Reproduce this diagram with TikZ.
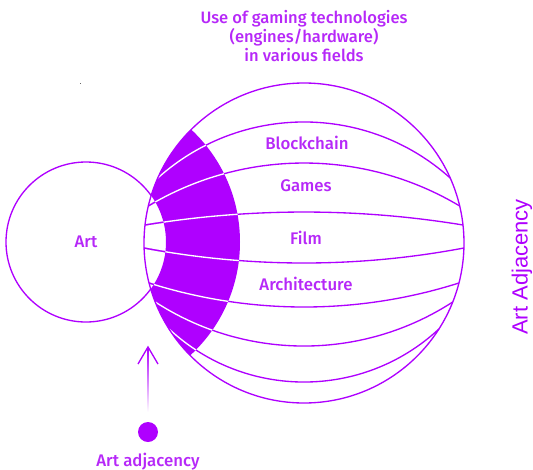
\documentclass[tikz,border=0pt]{standalone}
\usepackage{fontspec}
\setmainfont{Fira Sans}[UprightFont=* Medium]
\newfontfamily\arialfont{Liberation Sans}
\definecolor{pcol}{RGB}{175,0,255}
\definecolor{tcol}{RGB}{182,40,248}
\newcommand\drawlat[1]{%
  \draw[#1] (157.8,178) .. controls (241.0,103.3) and (367.0,103.3) .. (450.2,178);
  \draw[#1] (148.3,206) .. controls (244.1,148.7) and (363.9,148.7) .. (459.7,206);
  \draw[#1] (145.0,225) .. controls (250.3,207.7) and (357.7,207.7) .. (463.0,225);
  \draw[#1] (144.1,248) .. controls (249.8,268.0) and (358.2,268.0) .. (463.9,248);
  \draw[#1] (149.1,283) .. controls (249.9,315.0) and (358.1,315.0) .. (458.9,283);
  \draw[#1] (155.3,302) .. controls (245.8,360.7) and (362.2,360.7) .. (452.7,302);
  \draw[#1] (169.1,329) .. controls (245.2,399.7) and (362.8,399.7) .. (438.9,329);
}
\begin{document}
\begin{tikzpicture}[x=0.75pt,y=-0.75pt,
  lat/.style={draw=pcol, line width=1pt},
  lbl/.style={text=tcol, font=\fontsize{12.6}{15}\selectfont, inner sep=0pt},
  ttl/.style={text=tcol, font=\fontsize{12.4}{13.9}\selectfont, align=center, inner sep=0pt},
  sidelbl/.style={text=pcol, font=\arialfont\fontsize{16.5}{18}\selectfont, inner sep=0pt}]
\useasboundingbox (0,0) rectangle (533,469);
% Art circle
\draw[lat] (86,242) circle[radius=80];
% big sphere background
\fill[white] (304,243) circle[radius=160];
% highlighted band
\begin{scope}
  \clip (304,243) circle[radius=160];
  \fill[pcol, even odd rule] (86,242) circle[radius=154] (86,242) circle[radius=80];
\end{scope}
% latitude lines
\drawlat{lat}
\begin{scope}
  \clip (304,243) circle[radius=160];
  \clip (86,242) circle[radius=154];
  \drawlat{draw=white, line width=1pt}
\end{scope}
\begin{scope}
  \clip (304,243) circle[radius=160];
  \clip (86,242) circle[radius=80];
  \drawlat{lat}
\end{scope}
% sphere outline
\draw[lat] (304,243) circle[radius=160];
% texts
\node[ttl] (title) at (304,36) {Use of gaming technologies\\(engines/hardware)\\in various fields};
\node[lbl] (blk) at (307,143) {Blockchain};
\node[lbl] (gam) at (306,186) {Games};
\node[lbl] (film) at (306,238) {Film};
\node[lbl] (arch) at (306,284) {Architecture};
\node[lbl] (art) at (86,242) {Art};
\node[sidelbl, rotate=90] (side) at (522,267) {Art Adjacency};
% art adjacency marker
\node[circle, fill=pcol, minimum size=15pt, inner sep=0pt] (dot) at (148,432) {};
\node[lbl, anchor=base] (adj) at (148,466) {Art adjacency};
\coordinate (tip) at (148,347);
\coordinate (tail) at (148,412);
\shade[top color=pcol, middle color=pcol, bottom color=white] (147.3,348) rectangle (148.7,412);
\draw[lat, line join=miter] (138,364) -- (tip) -- (158,364);
% stray speck
\fill[black!60] (79.5,82.5) rectangle (81,84);
\end{tikzpicture}
\end{document}
